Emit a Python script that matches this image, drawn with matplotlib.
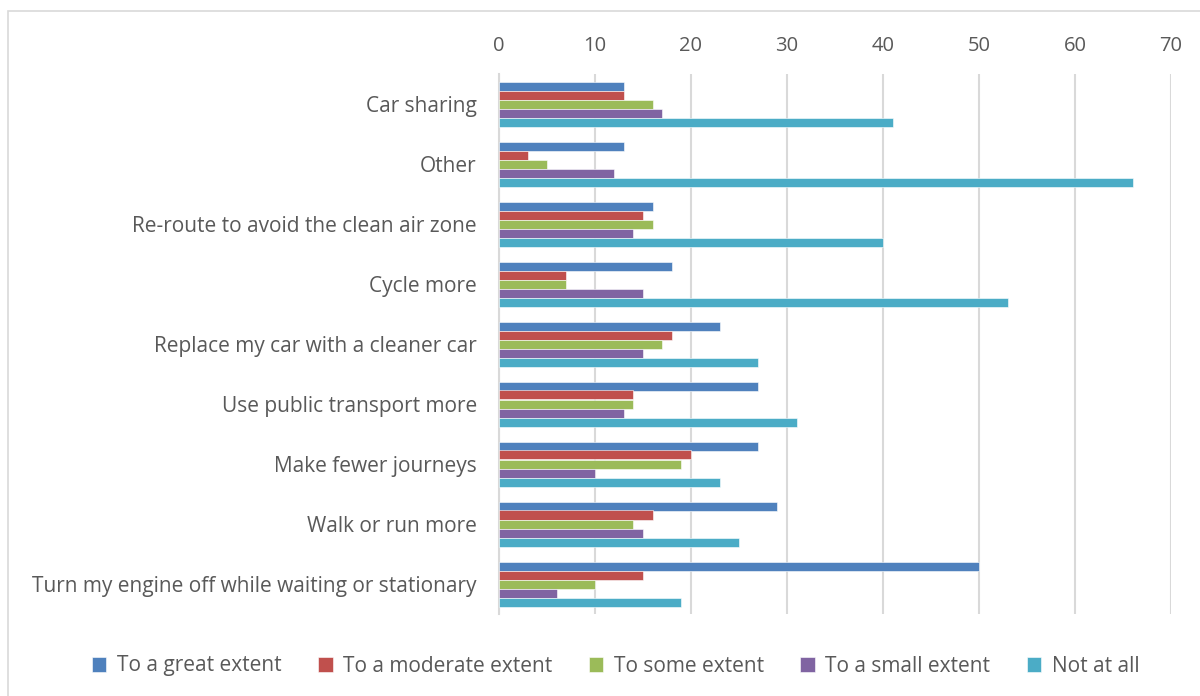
import numpy as np
import matplotlib.pyplot as plt
from matplotlib.patches import Rectangle

plt.rcParams['font.family'] = ['Open Sans', 'DejaVu Sans']

# categories, top to bottom
categories = [
    "Car sharing",
    "Other",
    "Re-route to avoid the clean air zone",
    "Cycle more",
    "Replace my car with a cleaner car",
    "Use public transport more",
    "Make fewer journeys",
    "Walk or run more",
    "Turn my engine off while waiting or stationary",
]

series_names = ["To a great extent", "To a moderate extent", "To some extent",
                "To a small extent", "Not at all"]

great = [13, 13, 16, 18, 23, 27, 27, 29, 50]
moderate = [13, 3, 15, 7, 18, 14, 20, 16, 15]
some = [16, 5, 16, 7, 17, 14, 19, 14, 10]
small = [17, 12, 14, 15, 15, 13, 10, 15, 6]
not_at_all = [41, 66, 40, 53, 27, 31, 23, 25, 19]

colors = ["#4F81BD", "#C0504D", "#9BBB59", "#8064A2", "#4BACC6"]
text_col = "#595959"
grid_col = "#D9D9D9"

fig = plt.figure(figsize=(12, 6.96), dpi=100)

# outer chart frame
fig.patches.append(Rectangle((8 / 1200, -0.02), 1.1, 1 - 11 / 696 + 0.02,
                             transform=fig.transFigure, fill=False,
                             edgecolor=grid_col, linewidth=1.2))

ax = fig.add_axes([499 / 1200, 1 - 614 / 696, 672 / 1200, 540 / 696])

y = np.arange(len(categories))
bar_h = 0.15
all_series = [great, moderate, some, small, not_at_all]
for i, (vals, name, c) in enumerate(zip(all_series, series_names, colors)):
    offs = (i - 2) * bar_h
    ax.barh(y + offs, vals, height=bar_h, color=c, label=name,
            edgecolor="white", linewidth=0.4, zorder=3)

ax.set_ylim(len(categories) - 0.5, -0.5)
ax.set_xlim(0, 70)
ax.set_xticks(range(0, 71, 10))
ax.xaxis.tick_top()
ax.tick_params(axis="x", length=0, labelsize=14.5, colors=text_col, pad=13)
ax.set_yticks(y)
ax.set_yticklabels(categories)
ax.tick_params(axis="y", length=0, labelsize=15, colors=text_col, pad=16)

ax.grid(axis="x", color=grid_col, linewidth=1.5, zorder=0)
for s in ["top", "right", "bottom"]:
    ax.spines[s].set_visible(False)
ax.spines["left"].set_color(grid_col)
ax.spines["left"].set_linewidth(1.5)

handles, labels = ax.get_legend_handles_labels()
fig.legend(handles, labels, loc="center", bbox_to_anchor=(0.513, 1 - 666 / 696),
           ncol=5, frameon=False, fontsize=15, labelcolor=text_col,
           handlelength=0.7, handleheight=0.75, handletextpad=0.5, columnspacing=1.75)

fig.savefig("out.png", dpi=100)
